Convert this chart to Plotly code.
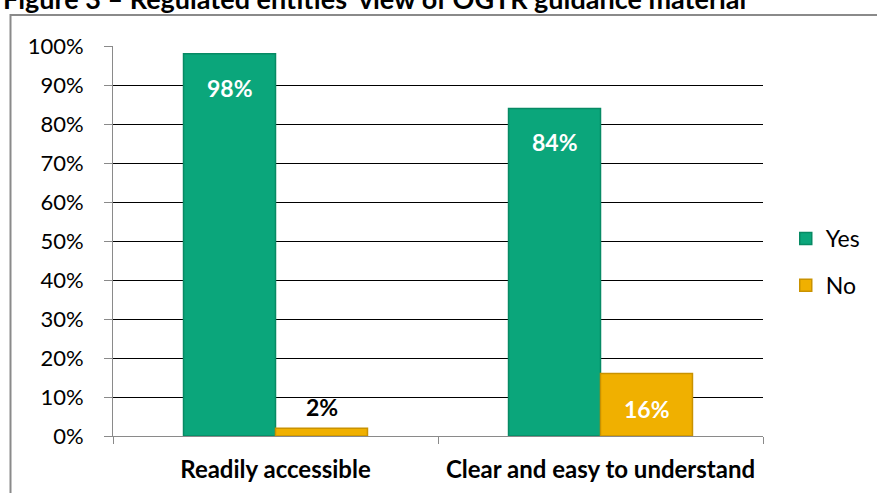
import plotly.graph_objects as go

categories = ["Readily accessible", "Clear and easy to understand"]
yes_values = [0.98, 0.84]
no_values = [0.02, 0.16]
y_ticks = [0, 0.1, 0.2, 0.3, 0.4, 0.5, 0.6, 0.7, 0.8, 0.9, 1.0]
y_tick_labels = ["0%", "10%", "20%", "30%", "40%", "50%", "60%", "70%", "80%", "90%", "100%"]
title_text = "Figure 3 \u2013 Regulated entities\u2019 view of OGTR guidance material"

FONT = "Lato, Open Sans, sans-serif"
GREEN = "#0BA67B"
GREEN_EDGE = "#078A64"
GOLD = "#F0B000"
GOLD_EDGE = "#C99200"

fig = go.Figure()
fig.add_trace(go.Bar(
    name="Yes", x=categories, y=yes_values,
    marker=dict(color=GREEN, line=dict(color=GREEN_EDGE, width=1.5)),
    legendgroup="yes",
))
fig.add_trace(go.Bar(
    name="No", x=categories, y=no_values,
    marker=dict(color=GOLD, line=dict(color=GOLD_EDGE, width=1.5)),
    legendgroup="no",
))

# value labels
annotations = []
for cat, v in zip(categories, yes_values):
    annotations.append(dict(
        x=cat, y=v, xref="x", yref="y", xshift=-46, yshift=-34,
        text=f"<b>{round(v*100)}%</b>", showarrow=False,
        font=dict(family=FONT, size=23, color="white"),
    ))
for cat, v in zip(categories, no_values):
    inside = v >= 0.1
    annotations.append(dict(
        x=cat, y=v, xref="x", yref="y", xshift=46,
        yshift=-35 if inside else 21,
        text=f"<b>{round(v*100)}%</b>", showarrow=False,
        font=dict(family=FONT, size=23, color="white" if inside else "black"),
    ))
# heading above the chart frame, running off the top edge
annotations.append(dict(
    x=(1 - 113) / 650, y=(436 + 1) / 390, xref="paper", yref="paper",
    xanchor="left", yanchor="middle", showarrow=False,
    text=f"<b>{title_text}</b>",
    font=dict(family=FONT, size=27, color="black"),
))

fig.update_layout(
    width=877, height=493,
    margin=dict(l=113, r=114, t=46, b=57),
    paper_bgcolor="white", plot_bgcolor="white",
    barmode="group", bargap=0.434, bargroupgap=0,
    font=dict(family=FONT, size=22, color="black"),
    showlegend=True,
    legend=dict(
        x=1.035, y=(436 - 262) / 390, xanchor="left", yanchor="middle",
        font=dict(family=FONT, size=23, color="black"),
        tracegroupgap=14, traceorder="grouped",
        bgcolor="rgba(0,0,0,0)",
    ),
    annotations=annotations,
    shapes=[dict(
        type="rect", xref="paper", yref="paper",
        x0=(10.5 - 113) / 650, x1=1.2, y0=-0.3, y1=(436 - 15) / 390,
        line=dict(color="#8A8A8A", width=2), fillcolor="rgba(0,0,0,0)",
        layer="below",
    )],
)

fig.update_yaxes(
    range=[0, 1], tickvals=y_ticks, ticktext=y_tick_labels,
    showgrid=True, gridcolor="black", gridwidth=1,
    showline=True, linecolor="#8A8A8A", linewidth=1,
    ticks="outside", ticklen=8, tickcolor="#8A8A8A",
    tickfont=dict(family=FONT, size=22), ticklabelstandoff=16,
    zeroline=False, automargin=False,
)
fig.update_xaxes(
    showline=True, linecolor="#8A8A8A", linewidth=1,
    ticks="outside", ticklen=7, tickcolor="#8A8A8A", tickson="boundaries",
    tickfont=dict(family=FONT, size=24), ticklabelstandoff=12,
    tickprefix="<b>", ticksuffix="</b>", automargin=False,
)

fig.write_html("out.html")
